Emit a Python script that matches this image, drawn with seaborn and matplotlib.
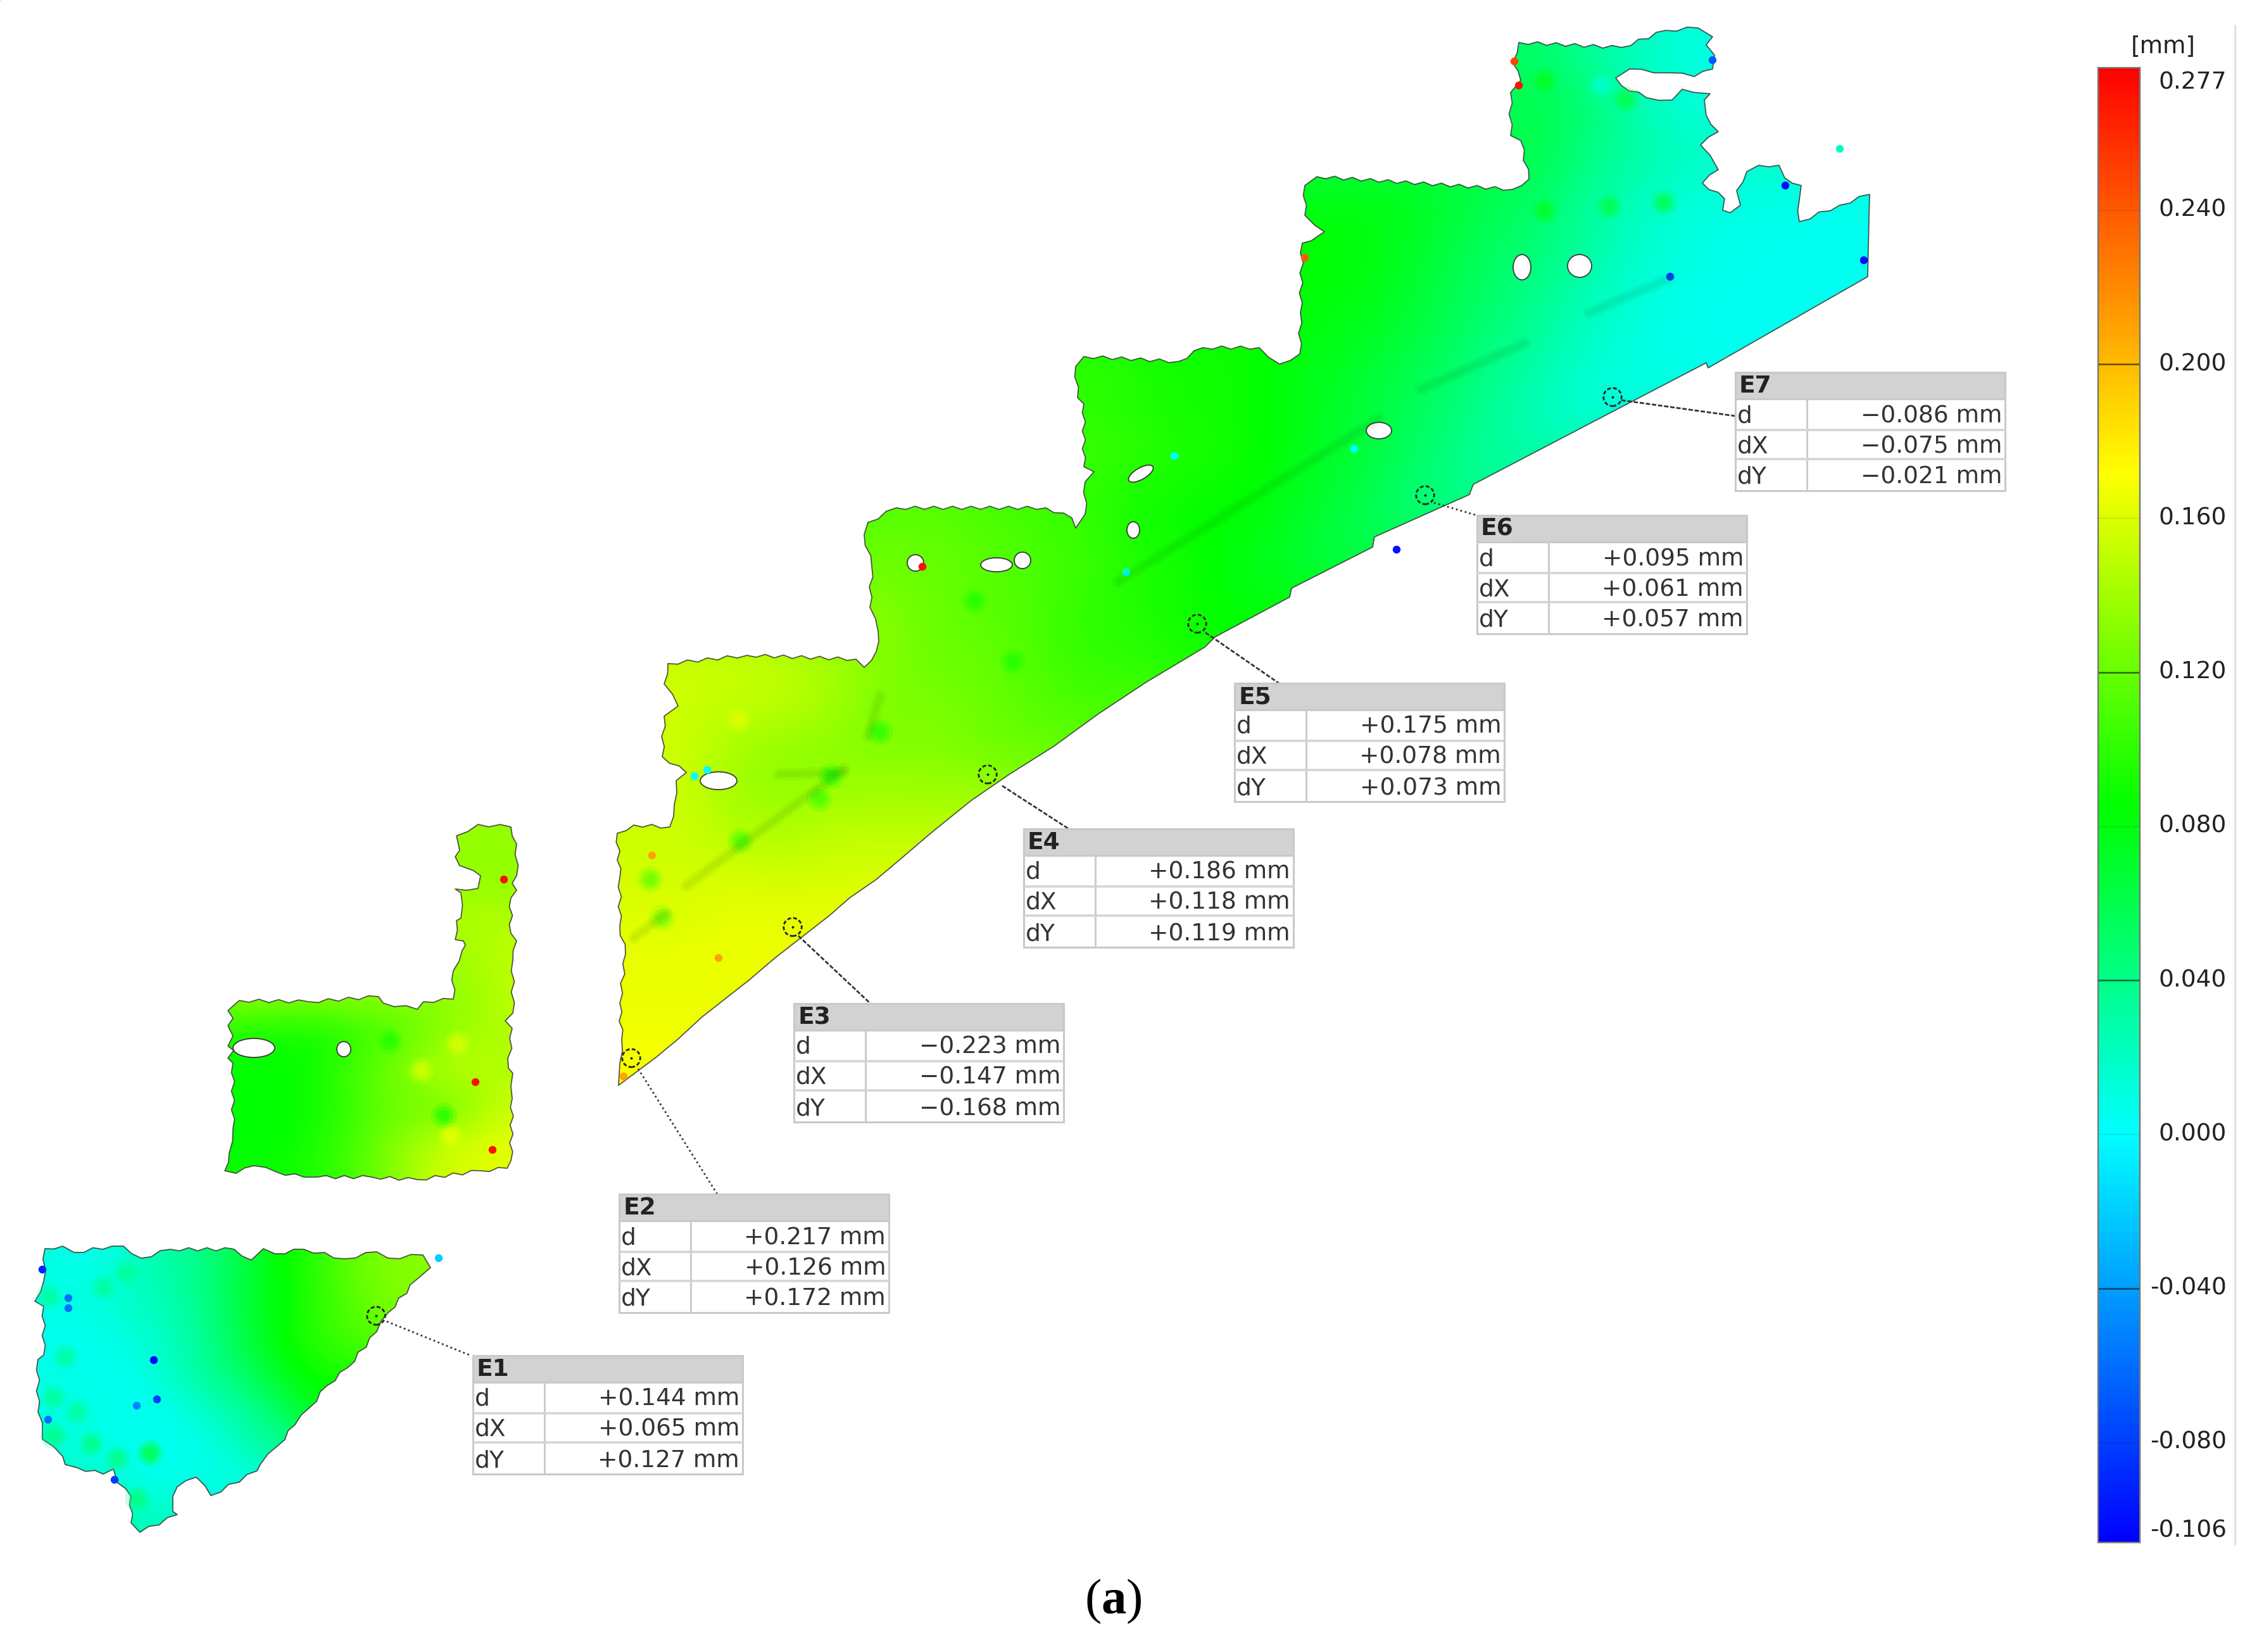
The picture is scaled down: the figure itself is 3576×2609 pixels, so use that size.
import numpy as np
import pandas as pd
import matplotlib.pyplot as plt
import seaborn as sns
from matplotlib.colors import LinearSegmentedColormap, Normalize
from matplotlib.patches import Polygon, Rectangle, Ellipse

W, H = 3576, 2609
VMIN, VMAX = -0.106, 0.277

# deviation, hundredths of a mm, one start column per row
stairs_start = [18, 18, 18, 13, 13, 13, 9, 9, 9, 5, 5, 5, 1, 1, 1, 0, 0, 0, 0, 0, 0]
stairs_vals = [
    [5, 3, 2, 1],
    [6, 4.5, 2, 1],
    [6, 4, 3, 2],
    [8, 8, 8, 7, 6, 5, 3, 2, 1, 1, .5, .5],
    [8.5, 8.5, 7.5, 6.5, 5, 4.5, 3, 1.5, 1, .5, .5, .5],
    [8.5, 8, 7.5, 6, 5, 3.5, 2, 1, .5, .5],
    [10, 9.5, 9, 9, 8, 7.5, 6.5, 5.5, 4, 3, 1.5, 1, .5],
    [10, 9.5, 9, 9, 8, 7, 6, 5, 3.5, 2, 1],
    [10.5, 10, 9.5, 9, 8, 7, 6, 4.5, 3],
    [11.5, 11.5, 11, 10.5, 10, 9, 8.5, 8.5, 7.5, 6.5, 5, 4],
    [12, 12, 11.5, 11, 10.5, 9.5, 9, 8, 7, 6],
    [13, 12, 11.5, 11, 10, 9.5, 9, 8],
    [15.5, 15.5, 15, 14, 13, 12, 12, 11, 10, 10, 9],
    [15.5, 15, 15, 14, 12.5, 13, 12, 11.5, 11],
    [15.5, 14, 13, 13, 13, 13, 12.5, 12],
    [15.5, 15.5, 14, 14, 14.5, 14.5, 14.5],
    [15.5, 15.5, 15.5, 15, 15.5, 15.5],
    [16, 16, 16.5, 16.5],
    [16.5, 16.5, 16.5],
    [16.5, 16.5],
    [17],
]
ell_start = [6, 6, 6, 6, 6, 0, 0, 0, 0, 0]
ell_vals = [
    [13.5, 13.5],
    [13.5, 13.5],
    [14.5, 14.5],
    [14, 15],
    [13.5, 15],
    [9.5, 9, 9, 10, 11, 12.5, 14, 14.5],
    [8.5, 8.5, 9, 11, 12.5, 14.5, 15, 14.5],
    [8.5, 8.5, 9, 10.5, 12, 12, 13, 15.5],
    [8.5, 8.5, 9.5, 11, 13, 15, 16, 16.5],
    [9, 9, 9.5, 11, 13, 15, 16, 16],
]
fan_start = [0, 0, 0, 0, 0, 0, 1, 2]
fan_vals = [
    [1, .5, 1.5, 3, 4, 6, 8.5, 10, 12, 13, 13],
    [1, 1, 2, 2.5, 4, 6.5, 8, 10, 11.5, 13],
    [.5, .5, 1, 2, 3.5, 6, 8.5, 10, 11, 12],
    [1, .5, .5, 1.5, 3.5, 5, 7.5, 9, 9.5],
    [1, 1, .5, .5, 1.5, 3, 5, 8, 7],
    [1.5, 1, .5, .5, .5, 2, 3.5, 4],
    [2, 1.5, .5, 1, .5, 1],
    [2.5, 2.5],
]

# piece outlines, picture pixels
stairs_top = [(2399, 67), (2561, 75), (2631, 48), (2682, 44), (2705, 58), (2695, 71), (2708, 87), (2705, 109),
              (2676, 121), (2638, 115), (2612, 115), (2574, 109), (2552, 123), (2561, 135), (2600, 154), (2641, 158),
              (2657, 141), (2676, 146), (2701, 148), (2692, 158), (2695, 182), (2714, 208), (2686, 229), (2701, 245),
              (2714, 268), (2689, 289), (2724, 314), (2721, 332), (2733, 336), (2749, 324), (2743, 301), (2759, 271),
              (2778, 261), (2810, 261), (2819, 281), (2845, 293), (2842, 316), (2842, 350), (2906, 324), (2953, 307)]
stairs_diag = [(2950, 437), (2698, 581), (2695, 573), (2574, 636), (2327, 765), (2321, 781), (2171, 848), (2168, 864),
               (2040, 929), (2037, 943), (1919, 1006), (1903, 1022), (1811, 1077), (1734, 1128), (1664, 1179),
               (1594, 1223), (1533, 1265), (1470, 1316), (1422, 1357), (1384, 1389), (1342, 1418), (1310, 1446),
               (1224, 1513), (1183, 1548), (1109, 1606), (1071, 1641), (1036, 1670), (977, 1714)]
stairs_left = [(979, 1679), (982, 1641), (979, 1584), (988, 1507), (979, 1462), (979, 1386), (975, 1316), (1001, 1303),
               (1058, 1306), (1065, 1271), (1068, 1233), (1084, 1220), (1046, 1195), (1049, 1131), (1071, 1115),
               (1049, 1080), (1055, 1048), (1180, 1035), (1352, 1041), (1365, 1054), (1384, 1029), (1387, 997),
               (1374, 959), (1377, 895), (1365, 844), (1371, 825), (1416, 802), (1652, 802), (1693, 818), (1699, 834),
               (1714, 812), (1714, 761), (1728, 745), (1712, 737), (1712, 638), (1702, 628), (1699, 579), (1712, 563),
               (1861, 571), (1900, 549), (1989, 549), (2021, 575), (2053, 559), (2054, 494), (2057, 384), (2083, 372),
               (2092, 366), (2077, 356), (2061, 340), (2061, 293), (2080, 279), (2389, 299), (2415, 283), (2402, 222),
               (2386, 214), (2386, 146), (2402, 127), (2389, 99), (2399, 67)]
ell_outline = [(721, 1320), (755, 1302), (807, 1306), (816, 1333), (816, 1383), (809, 1395), (816, 1406), (807, 1418),
               (807, 1474), (816, 1486), (810, 1517), (810, 1600), (798, 1612), (809, 1624), (803, 1687), (810, 1695),
               (809, 1735), (807, 1833), (801, 1845), (759, 1849), (659, 1863), (587, 1859), (501, 1859), (480, 1859),
               (437, 1851), (401, 1841), (373, 1853), (355, 1849), (362, 1821), (368, 1782), (368, 1679), (360, 1671),
               (369, 1659), (360, 1652), (368, 1636), (360, 1620), (368, 1608), (360, 1596), (378, 1580), (487, 1582),
               (598, 1574), (605, 1584), (659, 1594), (669, 1582), (716, 1578), (716, 1533), (730, 1501), (735, 1493),
               (732, 1486), (719, 1484), (721, 1454), (728, 1450), (728, 1410), (719, 1404), (755, 1403), (759, 1383),
               (748, 1375), (726, 1367), (719, 1353), (726, 1343), (721, 1320)]
fan_outline = [(71, 1972), (99, 1968), (117, 1978), (177, 1968), (195, 1968), (223, 1987), (269, 1973), (370, 1973),
               (397, 1990), (416, 1972), (434, 1980), (480, 1973), (544, 1988), (595, 1977), (613, 1987), (668, 1982),
               (680, 2002), (659, 2020), (613, 2073), (595, 2103), (549, 2160), (517, 2188), (489, 2223), (466, 2250),
               (439, 2283), (411, 2313), (406, 2323), (333, 2362), (310, 2333), (280, 2348), (273, 2363), (273, 2387),
               (280, 2392), (221, 2420), (207, 2405), (207, 2363), (186, 2342), (179, 2320), (163, 2328), (122, 2318),
               (103, 2313), (99, 2300), (67, 2273), (67, 2247), (60, 2230), (60, 2147), (69, 2140), (69, 2063),
               (55, 2055), (69, 2023), (71, 1972)]

# holes in the scan
hole_x = [2404, 2495, 2178, 1802, 1790, 1615, 1574, 1446, 1135, 401, 543]
hole_y = [422, 420, 680, 748, 837, 885, 892, 889, 1233, 1655, 1657]
hole_w = [28, 38, 40, 44, 20, 26, 50, 26, 58, 66, 22]
hole_h = [40, 36, 26, 18, 26, 26, 22, 26, 28, 30, 24]
hole_angle = [0, 0, 0, -30, 0, 0, 0, 0, 0, 0, 0]

# isolated outliers
spot_x = [1457, 1097, 1117, 1779, 1855, 2139, 2206, 2820, 2638, 2944, 2705, 2399, 2392, 2061, 2906,
          1135, 1030, 985, 796, 751, 778, 243, 108, 108, 248, 76, 67, 181, 693, 216]
spot_y = [895, 1226, 1216, 904, 720, 709, 868, 293, 437, 411, 95, 135, 97, 407, 235,
          1513, 1351, 1700, 1389, 1709, 1816, 2148, 2050, 2066, 2210, 2242, 2005, 2337, 1987, 2220]
spot_val = [.27, .0, .0, .005, .0, .0, -.10, -.10, -.08, -.10, -.07, .27, .25, .24, .02,
            .21, .21, .21, .27, .27, .27, -.105, -.06, -.06, -.08, -.06, -.09, -.08, -.02, -.05]

# soft local patches in the surface
patch_x = [78, 163, 103, 85, 122, 85, 145, 237, 186, 218, 200,
           701, 616, 666, 723, 712,
           2440, 2568, 2529, 2542, 2440, 2628,
           1167, 1027, 1046, 1170, 1313, 1390, 1540, 1600, 1294]
patch_y = [2048, 2033, 2143, 2207, 2230, 2267, 2280, 2295, 2303, 2367, 2010,
           1762, 1644, 1691, 1648, 1794,
           127, 158, 135, 326, 332, 320,
           1137, 1389, 1450, 1328, 1226, 1156, 949, 1045, 1261]
patch_val = [.04, .04, .04, .04, .04, .05, .05, .08, .05, .05, .04,
             .085, .09, .165, .165, .17,
             .08, .07, .01, .07, .08, .07,
             .165, .11, .115, .10, .09, .09, .09, .09, .10]

# darker streaks along the weld lines
streak_x = [(2510, 2638), (2244, 2408), (1766, 2180), (1001, 1052), (1084, 1333), (1231, 1333), (1371, 1390)]
streak_y = [(494, 439), (615, 542), (919, 660), (1481, 1443), (1399, 1214), (1223, 1220), (1163, 1099)]

# measurement labels
point_names = ["E1", "E2", "E3", "E4", "E5", "E6", "E7"]
d_vals = ["+0.144 mm", "+0.217 mm", "\u22120.223 mm", "+0.186 mm", "+0.175 mm", "+0.095 mm", "\u22120.086 mm"]
dx_vals = ["+0.065 mm", "+0.126 mm", "\u22120.147 mm", "+0.118 mm", "+0.078 mm", "+0.061 mm", "\u22120.075 mm"]
dy_vals = ["+0.127 mm", "+0.172 mm", "\u22120.168 mm", "+0.119 mm", "+0.073 mm", "+0.057 mm", "\u22120.021 mm"]
point_x = [594, 997, 1252, 1560, 1891, 2251, 2547]
point_y = [2078, 1671, 1464, 1223, 985, 782, 627]
box_left = [747, 978, 1254, 1617, 1950, 2333, 2741]
box_top = [2141, 1886, 1585, 1309, 1079, 814, 588]
leader_x0 = [611, 1008, 1261, 1583, 1904, 2265, 2561]
leader_y0 = [2087, 1688, 1478, 1241, 999, 794, 632]
leader_x1 = [744, 1133, 1375, 1688, 2020, 2333, 2741]
leader_y1 = [2141, 1886, 1585, 1309, 1079, 814, 657]

cbar_ticks = [0.24, 0.20, 0.16, 0.12, 0.08, 0.04, 0.0, -0.04, -0.08]
cbar_labels = ["0.277", "0.240", "0.200", "0.160", "0.120", "0.080", "0.040", "0.000", "-0.040", "-0.080", "-0.106"]
cbar_label_pos = [0.2732, 0.24, 0.20, 0.16, 0.12, 0.08, 0.04, 0.0, -0.04, -0.08, -0.1029]


def build_grid(starts, rows):
    width = max(s + len(r) for s, r in zip(starts, rows))
    grid = np.full((len(rows), width), np.nan)
    for i, (s, r) in enumerate(zip(starts, rows)):
        grid[i, s:s + len(r)] = np.array(r) / 100
    return grid


def rough(points, step=14, amp=2.5):
    # the scan edge is a fine zigzag, not a clean line
    out = []
    for (x0, y0), (x1, y1) in zip(points[:-1], points[1:]):
        length = np.hypot(x1 - x0, y1 - y0)
        n = max(int(length / step), 1)
        nx, ny = -(y1 - y0) / length, (x1 - x0) / length
        for k in range(n):
            off = 0 if k == 0 else (amp if k % 2 else -amp)
            out.append((x0 + (x1 - x0) * k / n + nx * off, y0 + (y1 - y0) * k / n + ny * off))
    out.append(points[-1])
    return out


sns.set_theme(style="white", rc={"font.family": "DejaVu Sans"})
plt.rcParams["mathtext.fontset"] = "custom"
plt.rcParams["mathtext.bf"] = "Liberation Serif:bold"
plt.rcParams["mathtext.rm"] = "Liberation Serif"

cmap = LinearSegmentedColormap.from_list("deviation", [
    ((-0.106 - VMIN) / (VMAX - VMIN), "#0000ff"),
    ((0.0 - VMIN) / (VMAX - VMIN), "#00ffff"),
    ((0.085 - VMIN) / (VMAX - VMIN), "#00ff00"),
    ((0.172 - VMIN) / (VMAX - VMIN), "#ffff00"),
    (1.0, "#ff0000"),
], N=512)
norm = Normalize(VMIN, VMAX)

fig = plt.figure(figsize=(W / 100, H / 100), dpi=100, facecolor="white")


def px_axes(x0, y0, x1, y1, **kw):
    return fig.add_axes([x0 / W, 1 - y1 / H, (x1 - x0) / W, (y1 - y0) / H], **kw)


over = px_axes(0, 0, W, H, zorder=5)
over.set_xlim(0, W)
over.set_ylim(H, 0)
over.axis("off")
over.patch.set_alpha(0)


def draw_piece(grid, outline, extent):
    ax = px_axes(*extent)
    sns.heatmap(grid, ax=ax, cmap=cmap, vmin=VMIN, vmax=VMAX, cbar=False, xticklabels=False, yticklabels=False)
    clip = Polygon(outline, closed=True, transform=over.transData)
    ax.collections[0].set_clip_path(clip)
    # same cells again with bicubic resampling: the scan surface is smooth
    filled = pd.DataFrame(grid).ffill(axis=1).bfill(axis=1).ffill(axis=0).bfill(axis=0).values
    rows, cols = grid.shape
    im = ax.imshow(filled, cmap=cmap, norm=norm, interpolation="bicubic", aspect="auto",
                   extent=(0, cols, rows, 0), zorder=3)
    im.set_clip_path(clip)
    ax.set_xlim(0, cols)
    ax.set_ylim(rows, 0)
    ax.axis("off")
    over.add_patch(Polygon(outline, closed=True, fill=False, ec="#3a3a3a", lw=1.3, alpha=0.85, joinstyle="round"))


stairs_outline = rough(stairs_top) + stairs_diag + rough(stairs_left)
draw_piece(build_grid(stairs_start, stairs_vals), stairs_outline, (960, 40, 2960, 1720))
draw_piece(build_grid(ell_start, ell_vals), rough(ell_outline), (350, 1300, 830, 1900))
draw_piece(build_grid(fan_start, fan_vals), rough(fan_outline), (50, 1960, 710, 2440))

for s, a in ((900, 0.2), (450, 0.3), (180, 0.35)):
    sns.scatterplot(x=patch_x, y=patch_y, hue=patch_val, palette=cmap, hue_norm=norm, s=s, alpha=a, linewidth=0,
                    legend=False, ax=over)

for xs, ys in zip(streak_x, streak_y):
    over.plot(xs, ys, color="#005000", alpha=0.05, lw=14, solid_capstyle="round")
    over.plot(xs, ys, color="#005000", alpha=0.06, lw=7, solid_capstyle="round")

for x, y, w, h, a in zip(hole_x, hole_y, hole_w, hole_h, hole_angle):
    over.add_patch(Ellipse((x, y), w, h, angle=a, fc="white", ec="#3a3a3a", lw=1.3))

sns.scatterplot(x=spot_x, y=spot_y, hue=spot_val, palette=cmap, hue_norm=norm, s=80, linewidth=0, legend=False, ax=over)

# colour bar
cax = px_axes(3314, 107, 3380, 2436)
sns.heatmap(build_grid(fan_start, fan_vals), ax=px_axes(0, 0, 1, 1), cmap=cmap, vmin=VMIN, vmax=VMAX, cbar=True,
            cbar_ax=cax, xticklabels=False, yticklabels=False)
cax.set_yticks([])
cax.set_ylim(VMIN, VMAX)
for side, spine in cax.spines.items():
    spine.set_visible(True)
    spine.set_color("#777777")
    spine.set_linewidth(1.6)
for i, tick in enumerate(cbar_ticks):
    cax.axhline(tick, color="black", lw=1.8, alpha=0.6 if i % 2 else 0.08)
for pos, lab in zip(cbar_label_pos, cbar_labels):
    cax.text((3517 - 3314) / 66, pos, lab, transform=cax.get_yaxis_transform(), ha="right", va="center",
             fontsize=27, color="#222222")
over.text(3417, 73, "[mm]", ha="center", va="center", fontsize=27, color="#222222")
over.plot([3530, 3530], [40, 2439], color="#e2e2e2", lw=2.5)

# measurement points and labels
for x0, x1, y0, y1, name in zip(leader_x0, leader_x1, leader_y0, leader_y1, point_names):
    style = (0, (1, 1.6)) if name in ("E1", "E2", "E6") else (0, (2.5, 1))
    over.plot([x0, x1], [y0, y1], color="#333333", lw=2, ls=style)
sns.scatterplot(x=point_x, y=point_y, s=8, color="#222222", linewidth=0, legend=False, ax=over)
sns.scatterplot(x=point_x, y=point_y, s=420, color="#222222", legend=False, ax=over)
rings = over.collections[-1]
rings.set_facecolor("none")
rings.set_edgecolor("#222222")
rings.set_linewidth(2)
rings.set_linestyle((0, (2.2, 1.2)))

BOX_W, BOX_H = 426, 187
for name, left, top, d, dx, dy in zip(point_names, box_left, box_top, d_vals, dx_vals, dy_vals):
    over.add_patch(Rectangle((left, top), BOX_W, BOX_H, fc="white", ec="#c9c9c9", lw=2.2, zorder=3))
    over.add_patch(Rectangle((left, top), BOX_W, 42, fc="#d2d2d2", ec="#c9c9c9", lw=2.2, zorder=3))
    over.plot([left + 113, left + 113], [top + 42, top + BOX_H], color="#cccccc", lw=2.2, zorder=3)
    for off in (91, 137):
        over.plot([left, left + BOX_W], [top + off, top + off], color="#d4d4d4", lw=2.6, zorder=3)
    over.text(left + 6, top + 22, name, fontsize=27, fontweight="bold", va="center", color="#222222", zorder=4)
    for off, lab, val in zip((69, 117, 166), ("d", "dX", "dY"), (d, dx, dy)):
        over.text(left + 3, top + off, lab, fontsize=27, va="center", color="#333333", zorder=4)
        over.text(left + BOX_W - 5, top + off, val, fontsize=27, va="center", ha="right", color="#333333", zorder=4)

over.text(1758, 2529, r"($\mathbf{a}$)", family="Liberation Serif", fontsize=57, ha="center", va="center", color="black")

fig.savefig("out.png", dpi=100)
